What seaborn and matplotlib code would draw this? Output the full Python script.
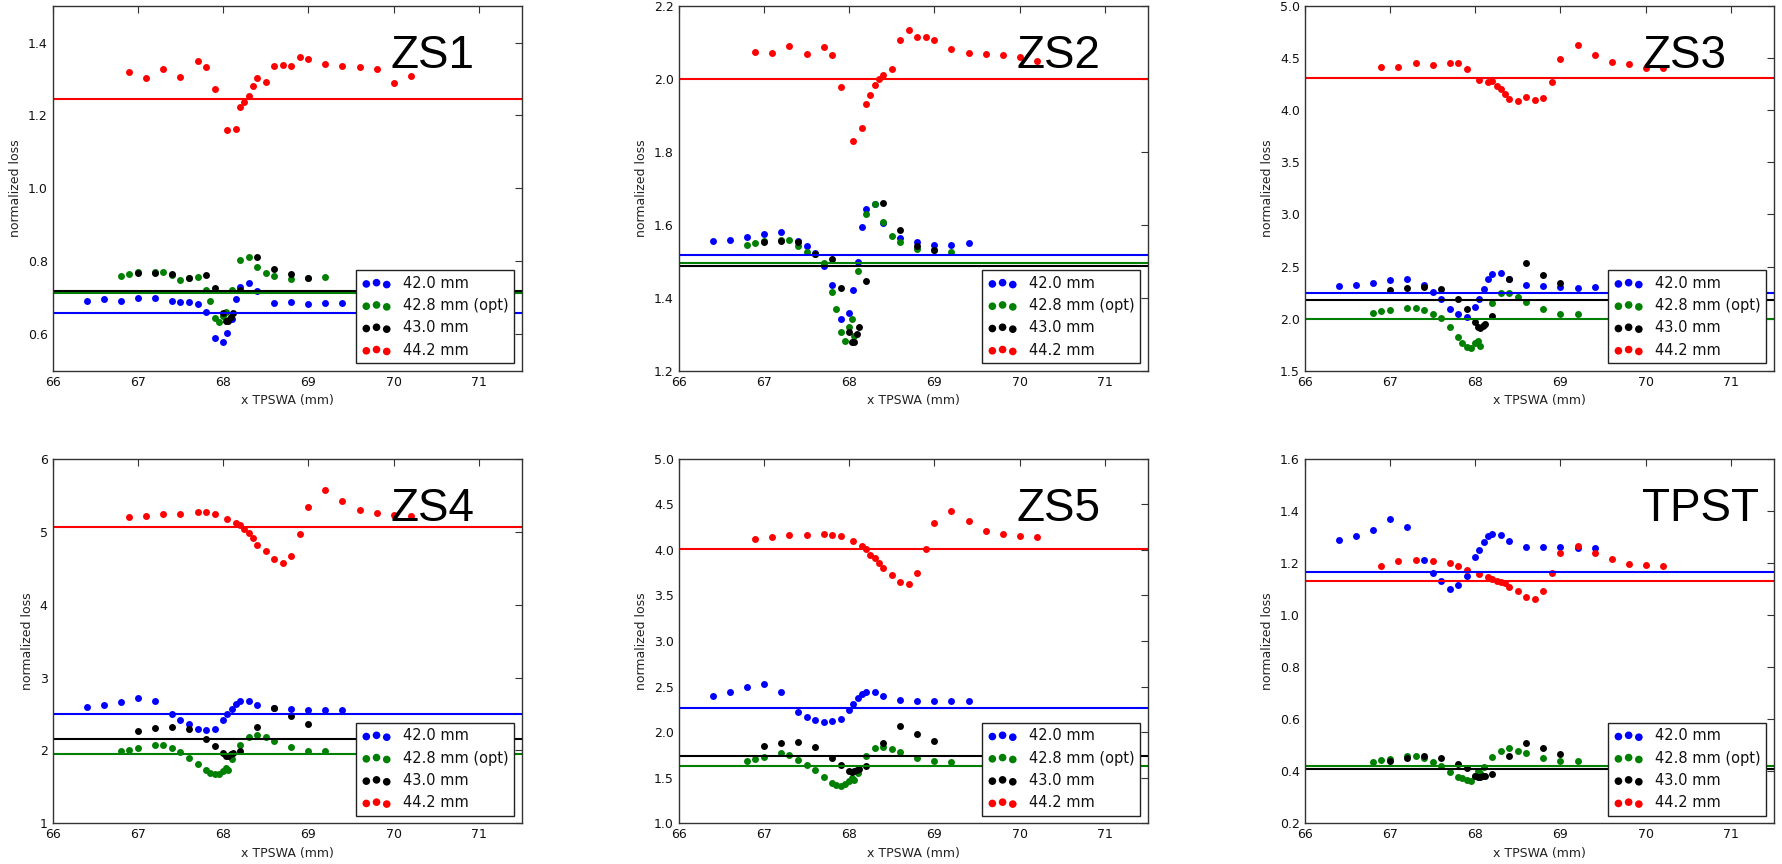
import matplotlib
matplotlib.use('Agg')
import matplotlib.pyplot as plt
from matplotlib.ticker import MultipleLocator, FormatStrFormatter
import seaborn as sns

# scan positions x TPSWA (mm) for each collimator setting
x_420 = [66.4, 66.6, 66.8, 67.0, 67.2, 67.4, 67.5, 67.6, 67.7, 67.8, 67.9, 68.0,
         68.05, 68.1, 68.15, 68.2, 68.3, 68.4, 68.6, 68.8, 69.0, 69.2, 69.4]
x_428 = [66.8, 66.9, 67.0, 67.2, 67.3, 67.4, 67.5, 67.6, 67.7, 67.8, 67.85, 67.9,
         67.95, 68.0, 68.03, 68.06, 68.1, 68.2, 68.3, 68.4, 68.5, 68.6, 68.8, 69.0, 69.2]
x_430 = [67.0, 67.2, 67.4, 67.6, 67.8, 67.9, 68.0, 68.03, 68.06, 68.09, 68.12,
         68.2, 68.4, 68.6, 68.8, 69.0]
x_442 = [66.9, 67.1, 67.3, 67.5, 67.7, 67.8, 67.9, 68.05, 68.15, 68.2, 68.25, 68.3,
         68.35, 68.4, 68.5, 68.6, 68.7, 68.8, 68.9, 69.0, 69.2, 69.4, 69.6, 69.8, 70.0, 70.2]

labels = ['42.0 mm', '42.8 mm (opt)', '43.0 mm', '44.2 mm']
colors = ['#0000ff', '#008000', '#000000', '#ff0000']

# ZS1
zs1_420 = [0.692, 0.698, 0.690, 0.699, 0.699, 0.690, 0.688, 0.688, 0.684, 0.662, 0.591, 0.579,
           0.603, 0.641, 0.697, 0.731, 0.742, 0.719, 0.686, 0.688, 0.684, 0.686, 0.686]
zs1_428 = [0.760, 0.766, 0.772, 0.772, 0.770, 0.762, 0.749, 0.755, 0.757, 0.721, 0.692, 0.646,
           0.635, 0.650, 0.662, 0.640, 0.722, 0.805, 0.811, 0.784, 0.768, 0.760, 0.751, 0.755, 0.757]
zs1_430 = [0.769, 0.769, 0.766, 0.754, 0.762, 0.727, 0.659, 0.637, 0.636, 0.648, 0.659,
           0.721, 0.812, 0.779, 0.764, 0.755]
zs1_442 = [1.319, 1.304, 1.327, 1.306, 1.349, 1.332, 1.273, 1.161, 1.164, 1.223, 1.237, 1.252,
           1.281, 1.304, 1.291, 1.336, 1.337, 1.336, 1.361, 1.354, 1.342, 1.335, 1.334, 1.328, 1.290, 1.308]
zs1_mean = [0.658, 0.714, 0.718, 1.245]

# ZS2
zs2_420 = [1.555, 1.558, 1.566, 1.576, 1.581, 1.556, 1.543, 1.522, 1.486, 1.436, 1.341, 1.359,
           1.421, 1.497, 1.594, 1.644, 1.657, 1.604, 1.563, 1.554, 1.545, 1.546, 1.551]
zs2_428 = [1.546, 1.551, 1.556, 1.558, 1.559, 1.542, 1.525, 1.521, 1.496, 1.416, 1.368, 1.305,
           1.282, 1.319, 1.342, 1.294, 1.474, 1.630, 1.657, 1.609, 1.570, 1.552, 1.535, 1.530, 1.525]
zs2_430 = [1.552, 1.557, 1.552, 1.521, 1.506, 1.428, 1.307, 1.278, 1.278, 1.301, 1.319,
           1.445, 1.660, 1.587, 1.542, 1.530]
zs2_442 = [2.073, 2.071, 2.091, 2.069, 2.088, 2.067, 1.979, 1.831, 1.866, 1.931, 1.957, 1.983,
           2.001, 2.010, 2.027, 2.108, 2.134, 2.115, 2.115, 2.108, 2.081, 2.071, 2.069, 2.065, 2.060, 2.050]
zs2_mean = [1.517, 1.496, 1.488, 2.001]

# ZS3
zs3_420 = [2.313, 2.322, 2.345, 2.373, 2.383, 2.322, 2.259, 2.185, 2.093, 2.045, 2.017, 2.109,
           2.192, 2.281, 2.380, 2.431, 2.440, 2.380, 2.322, 2.313, 2.300, 2.297, 2.300]
zs3_428 = [2.058, 2.071, 2.080, 2.103, 2.103, 2.080, 2.048, 2.004, 1.921, 1.822, 1.771, 1.730,
           1.717, 1.765, 1.790, 1.739, 1.940, 2.153, 2.249, 2.243, 2.204, 2.157, 2.096, 2.048, 2.048]
zs3_430 = [2.274, 2.297, 2.303, 2.284, 2.189, 2.093, 1.966, 1.918, 1.915, 1.934, 1.946,
           2.023, 2.376, 2.532, 2.418, 2.341]
zs3_442 = [4.419, 4.419, 4.451, 4.438, 4.454, 4.451, 4.399, 4.293, 4.274, 4.281, 4.229, 4.203,
           4.155, 4.107, 4.091, 4.123, 4.100, 4.116, 4.274, 4.493, 4.624, 4.528, 4.464, 4.444, 4.409, 4.409]
zs3_mean = [2.249, 2.001, 2.175, 4.313]

# ZS4
zs4_420 = [2.592, 2.619, 2.664, 2.718, 2.673, 2.502, 2.421, 2.358, 2.295, 2.277, 2.299, 2.416,
           2.493, 2.565, 2.642, 2.673, 2.682, 2.628, 2.585, 2.565, 2.556, 2.561, 2.561]
zs4_428 = [1.998, 2.011, 2.034, 2.074, 2.070, 2.029, 1.975, 1.903, 1.813, 1.727, 1.696, 1.673,
           1.682, 1.718, 1.754, 1.727, 1.889, 2.079, 2.191, 2.214, 2.178, 2.128, 2.047, 1.998, 1.989]
zs4_430 = [2.268, 2.308, 2.322, 2.290, 2.155, 2.061, 1.966, 1.930, 1.930, 1.948, 1.961,
           1.993, 2.322, 2.588, 2.466, 2.367]
zs4_442 = [5.203, 5.217, 5.245, 5.240, 5.272, 5.263, 5.240, 5.171, 5.121, 5.093, 5.029, 4.979,
           4.906, 4.823, 4.732, 4.631, 4.571, 4.668, 4.965, 5.336, 5.565, 5.418, 5.295, 5.258, 5.230, 5.217]
zs4_mean = [2.493, 1.948, 2.154, 5.066]

# ZS5
zs5_420 = [2.399, 2.443, 2.494, 2.526, 2.439, 2.227, 2.162, 2.136, 2.107, 2.121, 2.143, 2.242,
           2.304, 2.370, 2.421, 2.446, 2.446, 2.395, 2.351, 2.344, 2.344, 2.344, 2.340]
zs5_428 = [1.687, 1.705, 1.731, 1.767, 1.753, 1.698, 1.636, 1.585, 1.512, 1.439, 1.421, 1.413,
           1.432, 1.468, 1.497, 1.479, 1.550, 1.742, 1.829, 1.833, 1.811, 1.778, 1.720, 1.687, 1.672]
zs5_430 = [1.844, 1.884, 1.895, 1.833, 1.720, 1.640, 1.578, 1.559, 1.578, 1.585, 1.592,
           1.625, 1.884, 2.063, 1.979, 1.899]
zs5_442 = [4.121, 4.139, 4.165, 4.158, 4.176, 4.168, 4.150, 4.099, 4.044, 4.004, 3.945, 3.916,
           3.861, 3.799, 3.722, 3.648, 3.626, 3.751, 4.004, 4.289, 4.429, 4.311, 4.209, 4.172, 4.150, 4.143]
zs5_mean = [2.271, 1.634, 1.744, 4.011]

# TPST
tpst_420 = [1.287, 1.302, 1.325, 1.368, 1.338, 1.211, 1.161, 1.129, 1.098, 1.115, 1.151, 1.223,
            1.251, 1.282, 1.305, 1.309, 1.306, 1.284, 1.262, 1.260, 1.261, 1.259, 1.259]
tpst_428 = [0.437, 0.442, 0.446, 0.459, 0.459, 0.450, 0.437, 0.420, 0.398, 0.377, 0.373, 0.366,
            0.362, 0.382, 0.401, 0.395, 0.418, 0.455, 0.479, 0.488, 0.479, 0.471, 0.452, 0.441, 0.439]
tpst_430 = [0.441, 0.452, 0.459, 0.450, 0.428, 0.411, 0.383, 0.379, 0.379, 0.383, 0.383,
            0.388, 0.460, 0.507, 0.488, 0.466]
tpst_442 = [1.189, 1.206, 1.211, 1.207, 1.198, 1.189, 1.174, 1.157, 1.147, 1.139, 1.132, 1.128,
            1.123, 1.107, 1.093, 1.070, 1.060, 1.091, 1.161, 1.238, 1.264, 1.236, 1.213, 1.197, 1.192, 1.187]
tpst_mean = [1.165, 0.421, 0.407, 1.131]

panels = [
    ('ZS1', [zs1_420, zs1_428, zs1_430, zs1_442], zs1_mean, (0.5, 1.5), 0.2, '%.1f'),
    ('ZS2', [zs2_420, zs2_428, zs2_430, zs2_442], zs2_mean, (1.2, 2.2), 0.2, '%.1f'),
    ('ZS3', [zs3_420, zs3_428, zs3_430, zs3_442], zs3_mean, (1.5, 5.0), 0.5, '%.1f'),
    ('ZS4', [zs4_420, zs4_428, zs4_430, zs4_442], zs4_mean, (1.0, 6.0), 1.0, '%d'),
    ('ZS5', [zs5_420, zs5_428, zs5_430, zs5_442], zs5_mean, (1.0, 5.0), 0.5, '%.1f'),
    ('TPST', [tpst_420, tpst_428, tpst_430, tpst_442], tpst_mean, (0.2, 1.6), 0.2, '%.1f'),
]
x_sets = [x_420, x_428, x_430, x_442]

sns.set_style('white')
plt.rcParams['font.family'] = ['DejaVu Sans']
plt.rcParams['xtick.direction'] = 'in'
plt.rcParams['ytick.direction'] = 'in'
plt.rcParams['xtick.top'] = True
plt.rcParams['ytick.right'] = True

fig, axes = plt.subplots(2, 3, figsize=(17.82, 8.64), dpi=100)
fig.subplots_adjust(left=0.0295, right=0.9953, top=0.993, bottom=0.047,
                    wspace=0.335, hspace=0.241)

for ax, (name, series, means, ylim, ystep, fmt) in zip(axes.flatten(), panels):
    for xs, ys, c, lab in zip(x_sets, series, colors, labels):
        sns.scatterplot(x=xs, y=ys, color=c, s=25, linewidth=0, legend=False, ax=ax)
        ax.collections[-1].set_label(lab)
    for m, c in zip(means, colors):
        ax.axhline(m, color=c, lw=1.5)

    ax.set_xlim(66, 71.5)
    ax.set_ylim(*ylim)
    ax.xaxis.set_major_locator(MultipleLocator(1))
    ax.yaxis.set_major_locator(MultipleLocator(ystep))
    ax.yaxis.set_major_formatter(FormatStrFormatter(fmt))
    ax.tick_params(labelsize=9, length=5, width=0.8, colors='#333333', labelcolor='#111111')
    for sp in ax.spines.values():
        sp.set_color('#333333')
        sp.set_linewidth(1.0)
    ax.set_xlabel('x TPSWA (mm)', fontsize=9, color='#222222')
    ax.set_ylabel('normalized loss', fontsize=9, color='#222222')

    ax.text(0.72, 0.83, name, transform=ax.transAxes, fontsize=33, color='black',
            family=['Liberation Sans', 'DejaVu Sans'], ha='left', va='baseline')

    leg = ax.legend(loc='lower right', scatterpoints=3, fontsize=10.5, fancybox=False,
                    framealpha=1, borderaxespad=0.5, markerscale=1.1)
    leg.get_frame().set_edgecolor('#222222')
    leg.get_frame().set_linewidth(1.0)
    for t in leg.get_texts():
        t.set_color('#111111')

plt.savefig('out.png', dpi=100)
